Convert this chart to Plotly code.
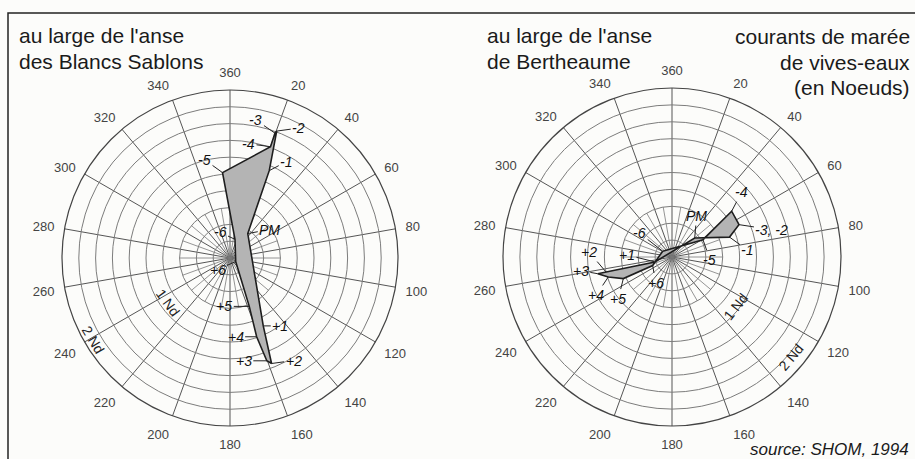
import math
import plotly.graph_objects as go

W, H = 915, 459

# ---- data (knots, degrees) ----
hours = ["-6", "-5", "-4", "-3", "-2", "-1", "PM", "+1", "+2", "+3", "+4", "+5", "+6"]

sablons_r = [0.23, 1.02, 1.41, 1.58, 1.61, 1.14, 0.36, 0.90, 1.35, 1.30, 0.99, 0.62, 0.08]
sablons_theta = [15, 355, 20, 19.8, 20.2, 24.2, 36, 153.9, 158.5, 160.3, 161.3, 158.3, 122]

bertheaume_r = [0.13, 0.42, 0.89, 0.88, 0.88, 0.72, 0.35, 0.21, 0.80, 0.90, 0.79, 0.63, 0.25]
bertheaume_theta = [302, 60.8, 52.5, 62.7, 64.2, 70.9, 50.1, 253.9, 257.1, 257.3, 252.6, 246.1, 246.2]

angle_ticks = list(range(0, 360, 20))
angle_labels = ["360" if a == 0 else str(a) for a in angle_ticks]
ring_ticks = [0.2, 0.4, 0.6, 0.8, 1.0, 1.2, 1.4, 1.6, 1.8, 2.0]

# label offsets (pixels) for hour labels: (dx, dy), dy positive downward
sablons_offsets = [(-15, -7), (-18, -13), (-22, -3), (-19, -13), (22, -3), (17, -9), (22, -4),
                   (17, 0), (22, -3), (-23, 0), (-21, 0), (-25, 0), (-18, 8)]
bert_labels = ["-6", "-5", "-4", None, "-3, -2", "-1", "PM", "+1", "+2", "+3", "+4", "+5", "+6"]
bert_offsets = [(-23, -18), (7, 20), (10, -19), None, (33, 5), (18, 13), (2, -22),
                (-28, -7), (-17, -20), (-17, -3), (-12, 18), (-5, 20), (3, 17)]

# domains
dom_left = dict(x=[(230 - 168) / W, (230 + 168) / W], y=[(201 - 168) / H, (201 + 168) / H])
dom_right = dict(x=[(672 - 169) / W, (672 + 169) / W], y=[(202 - 169) / H, (202 + 169) / H])
RMAX = 2.0


def to_paper(dom, r, theta):
    cx = (dom["x"][0] + dom["x"][1]) / 2
    cy = (dom["y"][0] + dom["y"][1]) / 2
    Rpx = (dom["x"][1] - dom["x"][0]) * W / 2
    t = math.radians(theta)
    return (cx + r / RMAX * Rpx * math.sin(t) / W, cy + r / RMAX * Rpx * math.cos(t) / H)


fig = go.Figure()

FILL = "#b4b4b4"
LINE = "#1e1e1e"
SPOKE_MINOR = "#7a7a7a"

for pname, rr, tt in [("polar", sablons_r, sablons_theta), ("polar2", bertheaume_r, bertheaume_theta)]:
    # minor inner spokes
    for a in range(10, 360, 20):
        fig.add_trace(go.Scatterpolar(r=[0, 0.6], theta=[a, a], mode="lines",
                                      line=dict(color=SPOKE_MINOR, width=0.8),
                                      subplot=pname, showlegend=False, hoverinfo="skip"))
    fig.add_trace(go.Scatterpolar(r=rr + [rr[0]], theta=tt + [tt[0]], mode="lines",
                                  fill="toself", fillcolor=FILL,
                                  line=dict(color=LINE, width=1.6),
                                  subplot=pname, showlegend=False, hoverinfo="skip"))

axis_common = dict(
    radialaxis=dict(range=[0, RMAX], tickvals=ring_ticks, showticklabels=False, ticks="",
                    showline=False, gridcolor="#7c7c7c", gridwidth=1),
    angularaxis=dict(rotation=90, direction="clockwise", tickvals=angle_ticks, ticktext=angle_labels,
                     gridcolor="#555555", gridwidth=1, linecolor="#444444", linewidth=1.2,
                     ticks="outside", ticklen=7, tickcolor="rgba(0,0,0,0)",
                     tickfont=dict(family="Liberation Sans, Arial", size=13, color="#444444")),
    bgcolor="rgba(0,0,0,0)",
)

annotations = []
LABEL_FONT = dict(family="Liberation Sans, Arial", size=14, color="#111111")


def hour_ann(dom, r, theta, text, off):
    x, y = to_paper(dom, r, theta)
    return dict(x=x, y=y, xref="paper", yref="paper", text=f"<i>{text}</i>", showarrow=True,
                arrowhead=0, arrowwidth=1, arrowcolor="#222222", ax=off[0], ay=off[1],
                font=LABEL_FONT, standoff=0, startstandoff=0)


for h, r, t, off in zip(hours, sablons_r, sablons_theta, sablons_offsets):
    annotations.append(hour_ann(dom_left, r, t, h, off))
for h, r, t, off in zip(bert_labels, bertheaume_r, bertheaume_theta, bert_offsets):
    if h is None:
        continue
    annotations.append(hour_ann(dom_right, r, t, h, off))

# Nd labels
nd_font = dict(family="Liberation Sans, Arial", size=14, color="#222222")
for dom, r, t, txt_, ang in [(dom_left, 0.91, 234, "1 Nd", 54), (dom_left, 1.90, 239, "2 Nd", 59),
                             (dom_right, 0.96, 127.5, "1 Nd", -52), (dom_right, 1.84, 130, "2 Nd", -50)]:
    x, y = to_paper(dom, r, t)
    annotations.append(dict(x=x, y=y, xref="paper", yref="paper", text=txt_, showarrow=False,
                            xanchor="center", yanchor="middle",
                            textangle=ang, font=nd_font))

title_font = dict(family="Liberation Sans, Arial", size=21, color="#1a1a1a")


def txt(xpx, ypx, s, anchor="left", font=title_font):
    return dict(x=xpx / W, y=1 - ypx / H, xref="paper", yref="paper", text=s, showarrow=False,
                xanchor=anchor, yanchor="middle", font=font)


annotations += [
    txt(17, 36, "au large de l'anse"),
    txt(17, 61, "des Blancs Sablons"),
    txt(485, 36, "au large de l'anse"),
    txt(485, 61, "de Bertheaume"),
    txt(912, 37, "courants de marée", "right"),
    txt(912, 62, "de vives-eaux", "right"),
    txt(912, 87, "(en Noeuds)", "right"),
    txt(911, 449, "<i>source: SHOM, 1994</i>", "right",
        dict(family="Liberation Sans, Arial", size=17, color="#1a1a1a")),
]

fig.update_layout(
    width=W, height=H, margin=dict(l=0, r=0, t=0, b=0),
    paper_bgcolor="#fcfcfa", plot_bgcolor="#fcfcfa",
    polar=dict(domain=dom_left, **axis_common),
    polar2=dict(domain=dom_right, **axis_common),
    annotations=annotations,
    shapes=[dict(type="rect", xref="paper", yref="paper", x0=8 / W, x1=1.05, y0=-0.05, y1=1 - 13 / H,
                 line=dict(color="#222222", width=1.5), layer="below")],
    showlegend=False,
)

fig.write_html("out.html", config={"displayModeBar": False},
               post_script="document.body.style.margin='0px';document.body.style.overflow='hidden';")
